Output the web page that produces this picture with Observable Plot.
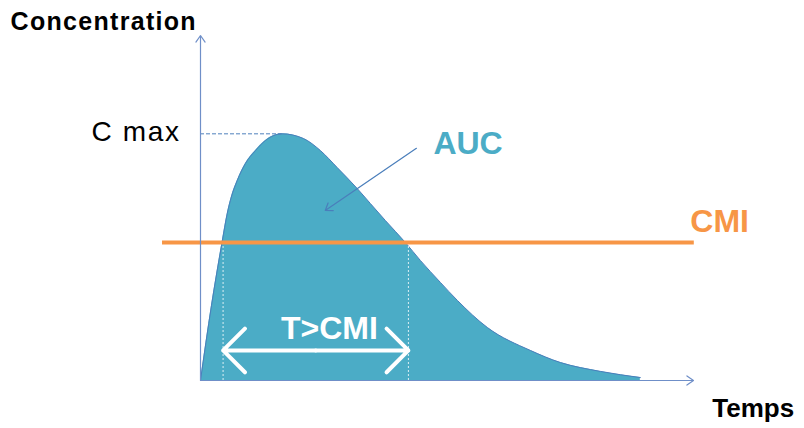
<!DOCTYPE html>
<html>
<head>
<meta charset="utf-8">
<script src="https://cdn.jsdelivr.net/npm/d3@7"></script>
<script src="https://cdn.jsdelivr.net/npm/@observablehq/plot@0.6"></script>
<style>
  html, body { margin: 0; padding: 0; background: #fff; }
  #chart svg { display: block; font-family: "Liberation Sans", Arial, sans-serif; }
  .spaced text { letter-spacing: 1.3px; }
  .spaced2 text { letter-spacing: 1.6px; }
</style>
</head>
<body>
<div id="chart"></div>
<script>
// Concentration–time profile
const times = [0, 0.275, 0.54, 0.67, 0.77, 0.92, 1.125, 1.375, 1.625, 2.04, 2.575, 3.0, 3.42, 3.92, 4.25, 4.625, 5.125, 5.5, 6.0, 6.425, 7.175, 8.25, 9.0, 10.0, 11.0];
const concentrations = [0, 3.04, 5.61, 6.78, 7.44, 8.12, 8.81, 9.33, 9.74, 10.01, 9.82, 9.33, 8.64, 7.79, 7.18, 6.49, 5.6, 4.87, 3.98, 3.25, 2.15, 1.22, 0.73, 0.37, 0.12];

const cmax = 10.01;
const tmax = 2.04;
const cmi = 5.6;
const tAboveCmi = [0.565, 5.2];          // start and end of T>CMI
const cmiLineExtent = [-0.95, 12.35];     // extent of the CMI line
const timeAxisEnd = 12.33;
const concAxisEnd = 14;
const tArrowLevel = 1.22;                 // level of the T>CMI double arrow
const aucPointer = {t1: 5.4, c1: 9.42, t2: 3.12, c2: 6.9};

const concLabel = [{t: -4.75, c: 14.53, text: "Concentration"}];
const timeLabel = [{t: 12.8, c: -1.14, text: "Temps"}];
const cmaxLabel = [{t: -0.5, c: 10.1, text: "C max"}];
const aucLabel = [{t: 5.825, c: 9.62, text: "AUC"}];
const cmiLabel = [{t: 12.25, c: 6.45, text: "CMI"}];
const tcmiLabel = [{t: 3.225, c: 2.12, text: "T>CMI"}];

const curve = times.map((t, i) => ({t, c: concentrations[i]}));
const tMid = (tAboveCmi[0] + tAboveCmi[1]) / 2;

const axisColor = "#6F8FC8";
const fillColor = "#4BACC6";
const orange = "#F79646";

const chart = Plot.plot({
  width: 804,
  height: 428,
  marginLeft: 200,
  marginRight: 111,
  marginTop: 35,
  marginBottom: 48,
  x: {domain: [0, timeAxisEnd], axis: null},
  y: {domain: [0, concAxisEnd], axis: null},
  marks: [
    Plot.areaY(curve, {x: "t", y: "c", fill: fillColor, curve: "monotone-x"}),
    Plot.line(curve, {x: "t", y: "c", stroke: "#4A7EBB", strokeWidth: 1, curve: "monotone-x"}),
    Plot.ruleX(tAboveCmi, {x: d => d, y1: 0, y2: cmi, stroke: "#ffffff", strokeOpacity: 0.8, strokeWidth: 1, strokeDasharray: "2,2"}),
    Plot.ruleY([cmax], {y: d => d, x1: 0, x2: tmax, stroke: "#4F81BD", strokeWidth: 1, strokeDasharray: "4,2"}),
    Plot.ruleY([cmi], {y: d => d, x1: cmiLineExtent[0], x2: cmiLineExtent[1], stroke: orange, strokeWidth: 4}),
    // axes
    Plot.arrow([0], {x1: 0, y1: 0, x2: timeAxisEnd, y2: 0, stroke: axisColor, strokeWidth: 1.2, headLength: 10, headAngle: 70}),
    Plot.arrow([0], {x1: 0, y1: 0, x2: 0, y2: concAxisEnd, stroke: axisColor, strokeWidth: 1.2, headLength: 10, headAngle: 70}),
    // T>CMI double arrow
    Plot.arrow(tAboveCmi, {x1: tMid, y1: tArrowLevel, x2: d => d, y2: tArrowLevel, stroke: "#fff", strokeWidth: 4, headLength: 16, headAngle: 90, strokeLinecap: "round"}),
    // AUC pointer
    Plot.arrow([aucPointer], {x1: "t1", y1: "c1", x2: "t2", y2: "c2", stroke: "#4A7EBB", strokeWidth: 1.2, headLength: 10, headAngle: 70}),
    // labels
    Plot.text(concLabel, {x: "t", y: "c", text: "text", textAnchor: "start", fontSize: 25, fontWeight: "bold", fill: "#000", className: "spaced"}),
    Plot.text(timeLabel, {x: "t", y: "c", text: "text", textAnchor: "start", fontSize: 26, fontWeight: "bold", fill: "#000"}),
    Plot.text(cmaxLabel, {x: "t", y: "c", text: "text", textAnchor: "end", fontSize: 28, fill: "#000", className: "spaced2"}),
    Plot.text(aucLabel, {x: "t", y: "c", text: "text", textAnchor: "start", fontSize: 32, fontWeight: "bold", fill: fillColor}),
    Plot.text(cmiLabel, {x: "t", y: "c", text: "text", textAnchor: "start", fontSize: 32, fontWeight: "bold", fill: orange}),
    Plot.text(tcmiLabel, {x: "t", y: "c", text: "text", textAnchor: "middle", fontSize: 32, fontWeight: "bold", fill: "#fff"})
  ]
});
chart.style.overflow = "visible";
document.getElementById("chart").append(chart);
</script>
</body>
</html>
